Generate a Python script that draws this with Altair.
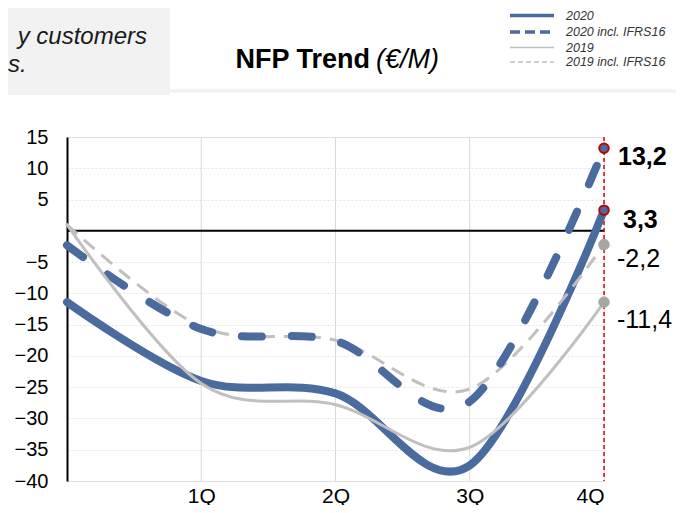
import altair as alt
import pandas as pd

# ---------------- data ----------------
quarters = [0, 1, 2, 3, 4]
quarter_labels = ["", "1Q", "2Q", "3Q", "4Q"]
series_names = ["2020", "2020 incl. IFRS16", "2019", "2019 incl. IFRS16"]
nfp_2020 = [-11.4, -24.0, -26.0, -37.5, 3.3]
nfp_2020_ifrs = [-2.3, -15.7, -17.6, -27.3, 13.2]
nfp_2019 = [1.0, -24.4, -27.8, -34.6, -11.4]
nfp_2019_ifrs = [1.0, -15.3, -17.5, -25.3, -2.2]
end_labels = ["3,3", "13,2", "-11,4", "-2,2"]
y_ticks = [15, 10, 5, -5, -10, -15, -20, -25, -30, -35, -40]
grid_quarters = [1, 2, 3]
title_main = "NFP Trend"
title_unit = "(€/M)"
box_lines = ["y customers", "s."]

series_values = [nfp_2020, nfp_2020_ifrs, nfp_2019, nfp_2019_ifrs]
rows = []
for name, vals, lab in zip(series_names, series_values, end_labels):
    for q, v in zip(quarters, vals):
        rows.append({"quarter": q, "value": v, "series": name,
                     "label": lab if q == quarters[-1] else ""})
df = pd.DataFrame(rows)

BLUE = "#4a6b9d"
GREY = "#c0c0c0"
FONT = "Liberation Sans"

label_map = "[" + ",".join("'%s'" % s for s in quarter_labels) + "][datum.value]"

x_enc = alt.X("quarter:Q",
              scale=alt.Scale(domain=[0, 4], nice=False, zero=False),
              axis=alt.Axis(values=grid_quarters + [4], labelExpr=label_map, title=None,
                            grid=False, domain=False, ticks=False, tickSize=0,
                            labelFontSize=21, labelPadding=15, labelBaseline="middle",
                            labelColor="black", labelFont=FONT))
y_enc = alt.Y("value:Q",
              scale=alt.Scale(domain=[-40, 15], nice=False, zero=False),
              axis=alt.Axis(values=y_ticks, title=None, grid=True, gridColor="#e3e3e3",
                            gridDash=[2, 2], gridWidth=1, domainColor="black", domainWidth=2,
                            ticks=False, tickSize=0, labelFontSize=20, labelPadding=19,
                            labelColor="black", labelFont=FONT, labelAngle=0))

legend = alt.Legend(orient="none", legendX=474, legendY=-129, title=None,
                    symbolType="M-7,0H1", symbolSize=121,
                    labelFont=FONT, labelFontSize=12.5, labelFontStyle="italic",
                    labelColor="#333333", labelOffset=10, rowPadding=1.5)
color_enc = alt.Color("series:N", scale=alt.Scale(domain=series_names,
                                                   range=[BLUE, BLUE, GREY, GREY]),
                      legend=legend)
legend_dash = alt.StrokeDash("series:N", scale=alt.Scale(domain=series_names,
                                                         range=[[1, 0], [10, 5], [1, 0], [5, 3]]),
                             legend=legend)
legend_width = alt.StrokeWidth("series:N", scale=alt.Scale(type="ordinal", domain=series_names,
                                                           range=[3.5, 3.5, 1.5, 1.5]),
                               legend=legend)

base = alt.Chart(df)

# grid / reference rules
vgrid = alt.Chart(pd.DataFrame({"quarter": grid_quarters})).mark_rule(
    color="#d9d9d9", strokeWidth=1).encode(x=x_enc)
zero_line = alt.Chart(pd.DataFrame({"value": [0]})).mark_rule(
    color="black", strokeWidth=2).encode(y=y_enc)
red_line = alt.Chart(pd.DataFrame({"quarter": [quarters[-1]]})).mark_rule(
    color="#e00000", strokeWidth=1.5, strokeDash=[4, 3]).encode(x=x_enc)

# legend carrier (no data drawn, only defines the legend symbols)
legend_layer = base.transform_filter("false").mark_line().encode(
    x=x_enc, y=y_enc, color=color_enc, strokeDash=legend_dash, strokeWidth=legend_width)

# lines, drawn in the reference's stacking order
line_styles = {
    "2020": dict(strokeWidth=8, strokeCap="round"),
    "2019 incl. IFRS16": dict(strokeWidth=3, strokeCap="butt", strokeDash=[14, 9]),
    "2020 incl. IFRS16": dict(strokeWidth=8, strokeCap="round", strokeDash=[20, 30]),
    "2019": dict(strokeWidth=3, strokeCap="round"),
}
line_layers = []
for name, st in line_styles.items():
    line_layers.append(
        base.transform_filter(alt.datum.series == name)
        .mark_line(interpolate="cardinal", **st)
        .encode(x=x_enc, y=y_enc, color=color_enc)
    )

end = base.transform_filter(alt.datum.quarter == quarters[-1])
pts_2020 = end.transform_filter(alt.FieldOneOfPredicate(field="series", oneOf=series_names[:2])) \
    .mark_point(shape="circle", filled=True, fill=BLUE, stroke="#c00000",
                strokeWidth=2, size=90, opacity=1).encode(x=x_enc, y=y_enc)
pts_2019 = end.transform_filter(alt.FieldOneOfPredicate(field="series", oneOf=series_names[2:])) \
    .mark_point(shape="circle", filled=True, fill="#a6a6a6", stroke="#a6a6a6",
                strokeWidth=1, size=110, opacity=1).encode(x=x_enc, y=y_enc)

label_style = {
    "2020": dict(dx=19, dy=10, fontWeight="bold"),
    "2020 incl. IFRS16": dict(dx=14, dy=9, fontWeight="bold"),
    "2019": dict(dx=13, dy=18, fontWeight="normal"),
    "2019 incl. IFRS16": dict(dx=13, dy=14, fontWeight="normal"),
}
label_layers = []
for name, st in label_style.items():
    label_layers.append(
        end.transform_filter(alt.datum.series == name)
        .mark_text(align="left", baseline="middle", fontSize=25, font=FONT,
                   color="black", **st)
        .encode(x=x_enc, y=y_enc, text="label:N")
    )

# header decorations
box = alt.Chart(pd.DataFrame({"k": [0]})).mark_rect(color="#f2f2f2").encode(
    x=alt.value(-59), x2=alt.value(103), y=alt.value(-129), y2=alt.value(-42))
band = alt.Chart(pd.DataFrame({"k": [0]})).mark_rule(color="#edf2fa", strokeWidth=3).encode(
    x=alt.value(103), x2=alt.value(620), y=alt.value(-46))
box_t1 = alt.Chart(pd.DataFrame({"t": [box_lines[0]]})).mark_text(
    align="right", baseline="middle", fontSize=24, fontStyle="italic", font=FONT,
    color="#1a1a1a").encode(x=alt.value(80), y=alt.value(-100), text="t:N")
box_t2 = alt.Chart(pd.DataFrame({"t": [box_lines[1]]})).mark_text(
    align="left", baseline="middle", fontSize=24, fontStyle="italic", font=FONT,
    color="#1a1a1a").encode(x=alt.value(-59), y=alt.value(-72), text="t:N")
title1 = alt.Chart(pd.DataFrame({"t": [title_main]})).mark_text(
    align="right", baseline="middle", fontSize=27, fontWeight="bold", font=FONT,
    color="black").encode(x=alt.value(303), y=alt.value(-77), text="t:N")
title2 = alt.Chart(pd.DataFrame({"t": [title_unit]})).mark_text(
    align="left", baseline="middle", fontSize=27, fontStyle="italic", font=FONT,
    color="black").encode(x=alt.value(309), y=alt.value(-77), text="t:N")

chart = alt.layer(
    vgrid, zero_line, red_line, legend_layer, *line_layers, pts_2020, pts_2019, *label_layers,
    box, band, box_t1, box_t2, title1, title2
).properties(
    width=537, height=344,
    padding={"left": 59, "top": 129, "right": 72, "bottom": 24},
    autosize=alt.AutoSizeParams(type="none"),
    background="white",
).configure_view(stroke=None).configure(font=FONT)

chart.save("out.html", embed_options={"renderer": "svg", "actions": False})
